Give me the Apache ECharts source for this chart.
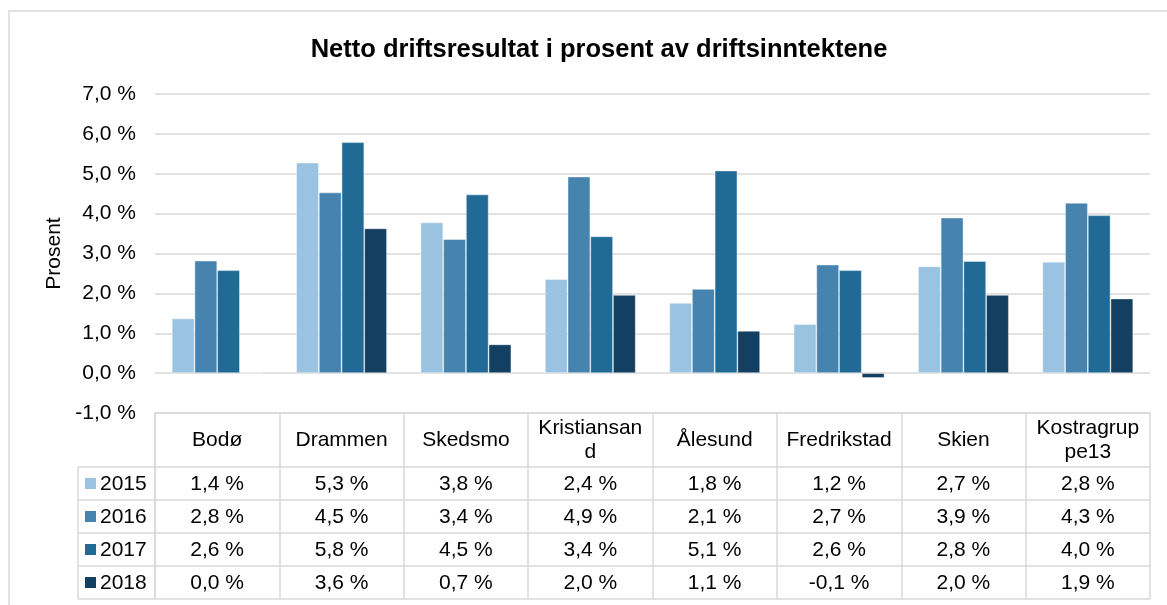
<!DOCTYPE html>
<html>
<head>
<meta charset="utf-8">
<title>Netto driftsresultat i prosent av driftsinntektene</title>
<script src="https://cdn.jsdelivr.net/npm/echarts@6/dist/echarts.min.js"></script>
<style>
    html, body { margin: 0; padding: 0; background: #fff; }
    #chart { width: 1167px; height: 605px; }
</style>
</head>
<body>
<div id="chart"></div>
<script>
    // kategorier og verdier (lest av stolpene, avrundet i tabellen)
    var kommuner = ['Bodø', 'Drammen', 'Skedsmo', 'Kristiansand', 'Ålesund', 'Fredrikstad', 'Skien', 'Kostragruppe13'];
    var aar = ['2015', '2016', '2017', '2018'];
    var verdi2015 = [1.37, 5.28, 3.78, 2.36, 1.76, 1.23, 2.68, 2.79];
    var verdi2016 = [2.82, 4.53, 3.36, 4.93, 2.11, 2.72, 3.90, 4.27];
    var verdi2017 = [2.58, 5.79, 4.48, 3.43, 5.08, 2.58, 2.81, 3.96];
    var verdi2018 = [0.02, 3.63, 0.72, 1.96, 1.06, -0.12, 1.96, 1.87];
    var yTicks = [-1, 0, 1, 2, 3, 4, 5, 6, 7];

    var serier = [verdi2015, verdi2016, verdi2017, verdi2018];
    var farger = ['#9ac3e2', '#4683ae', '#216a96', '#133f62'];
    var font = "'Liberation Sans', Arial, sans-serif";
    var grå = '#d9d9d9';

    // tabell-layout
    var tabellTopp = 413, hodeH = 54, radH = 33;
    var tabellVenstre = 78, plotVenstre = 155, plotHoyre = 1150;

    function pct(v) {
        return v.toFixed(1).replace('.', ',') + ' %';
    }

    var chart = echarts.init(document.getElementById('chart'));

    var option = {
        animation: false,
        color: farger,
        title: {
            text: 'Netto driftsresultat i prosent av driftsinntektene',
            left: 594,
            top: 32,
            textAlign: 'center',
            textStyle: { fontFamily: font, fontSize: 25.5, fontWeight: 'bold', color: '#000' }
        },
        grid: { left: plotVenstre, right: 1167 - plotHoyre, top: 94, bottom: 605 - tabellTopp },
        xAxis: {
            type: 'category',
            data: kommuner,
            axisLine: { onZero: false, lineStyle: { color: grå, width: 1.5 } },
            axisTick: { show: true, length: hodeH + 4 * radH, lineStyle: { color: grå, width: 1.5 } },
            axisLabel: {
                interval: 0,
                margin: 27,
                verticalAlign: 'middle',
                lineHeight: 24,
                width: 110,
                overflow: 'breakAll',
                fontFamily: font,
                fontSize: 21,
                color: '#000'
            }
        },
        yAxis: {
            type: 'value',
            min: yTicks[0],
            max: yTicks[yTicks.length - 1],
            interval: yTicks[1] - yTicks[0],
            name: 'Prosent',
            nameLocation: 'middle',
            nameRotate: 90,
            nameGap: 88,
            nameTextStyle: { fontFamily: font, fontSize: 21, color: '#000' },
            axisLine: { show: false },
            axisTick: { show: false },
            axisLabel: {
                margin: 19,
                fontFamily: font,
                fontSize: 21,
                color: '#000',
                formatter: pct
            },
            splitLine: { lineStyle: { color: grå, width: 1.5 } }
        },
        series: aar.map(function (a, i) {
            return {
                name: a,
                type: 'bar',
                data: serier[i],
                barGap: '0%',
                barCategoryGap: '27%',
                itemStyle: { borderColor: 'rgba(255,255,255,0.55)', borderWidth: 0.75 }
            };
        })
    };

    chart.setOption(option);

    // datatabell under diagrammet
    var grafikk = [];
    grafikk.push({
        type: 'rect', silent: true,
        shape: { x: 9, y: 11, width: 1250, height: 700 },
        style: { fill: 'none', stroke: grå, lineWidth: 1.5 }
    });

    var radTopp = tabellTopp + hodeH;
    var bunn = radTopp + 4 * radH;
    grafikk.push({
        type: 'line', silent: true,
        shape: { x1: tabellVenstre, y1: radTopp, x2: tabellVenstre, y2: bunn },
        style: { stroke: grå, lineWidth: 1.5 }
    });
    grafikk.push({
        type: 'line', silent: true,
        shape: { x1: plotVenstre, y1: tabellTopp, x2: plotVenstre, y2: bunn },
        style: { stroke: grå, lineWidth: 1.5 }
    });

    for (var r = 0; r <= 4; r++) {
        var yl = radTopp + r * radH;
        grafikk.push({
            type: 'line', silent: true,
            shape: { x1: tabellVenstre, y1: yl, x2: plotHoyre, y2: yl },
            style: { stroke: grå, lineWidth: 1.5 }
        });
    }

    for (var r = 0; r < aar.length; r++) {
        var ym = radTopp + r * radH + radH / 2;
        grafikk.push({
            type: 'rect', silent: true,
            shape: { x: 85, y: ym - 5.5, width: 11, height: 11 },
            style: { fill: farger[r] }
        });
        grafikk.push({
            type: 'text', silent: true,
            style: {
                text: aar[r], x: 100, y: ym + 1,
                textAlign: 'left', textVerticalAlign: 'middle',
                font: '21px ' + font, fill: '#000'
            }
        });
        for (var c = 0; c < kommuner.length; c++) {
            var xm = chart.convertToPixel({ xAxisIndex: 0 }, c);
            grafikk.push({
                type: 'text', silent: true,
                style: {
                    text: pct(serier[r][c]), x: xm, y: ym + 1,
                    textAlign: 'center', textVerticalAlign: 'middle',
                    font: '21px ' + font, fill: '#000'
                }
            });
        }
    }

    chart.setOption({ graphic: { elements: grafikk } });
</script>
</body>
</html>
